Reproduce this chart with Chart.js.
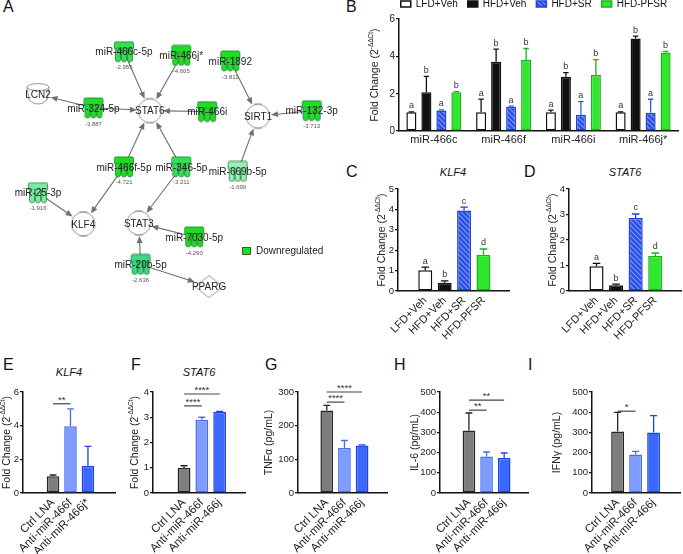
<!DOCTYPE html>
<html>
<head>
<meta charset="utf-8">
<script src="https://cdn.jsdelivr.net/npm/chart.js@4.4.1/dist/chart.umd.min.js"></script>
<style>
html, body { margin: 0; padding: 0; background: #fff; }
#page { position: relative; width: 683px; height: 554px; overflow: hidden; font-family: "Liberation Sans", Arial, sans-serif; }
#page canvas { position: absolute; }
.lab { position: absolute; font-size: 16px; line-height: 16px; color: #111; }
.ttl { position: absolute; font-size: 11px; line-height: 11px; font-style: italic; color: #111; transform: translateX(-50%); white-space: nowrap; }
</style>
</head>
<body>
<div id="page">
  <div class="lab" style="left:3px;top:-1px">A</div>
  <div class="lab" style="left:346px;top:-1px">B</div>
  <div class="lab" style="left:346px;top:164px">C</div>
  <div class="lab" style="left:524px;top:164px">D</div>
  <div class="lab" style="left:3px;top:357px">E</div>
  <div class="lab" style="left:131px;top:357px">F</div>
  <div class="lab" style="left:265px;top:357px">G</div>
  <div class="lab" style="left:394px;top:357px">H</div>
  <div class="lab" style="left:528px;top:357px">I</div>
  <div class="ttl" style="left:453px;top:167px">KLF4</div>
  <div class="ttl" style="left:625px;top:167px">STAT6</div>
  <div class="ttl" style="left:69px;top:367px">KLF4</div>
  <div class="ttl" style="left:199px;top:367px">STAT6</div>
</div>
<script>
// Panel A - network (positions of the nodes in the layout)
const mirNames = ['miR-466c-5p', 'miR-466j*', 'miR-1892', 'miR-324-5p', 'miR-466i', 'miR-132-3p',
                  'miR-466f-5p', 'miR-346-5p', 'miR-669b-5p', 'miR-25-3p', 'miR-7030-5p', 'miR-20b-5p'];
const mirFold = [-2.955, -4.605, -3.811, -3.887, null, -3.713, -4.721, -3.211, -1.699, -1.916, -4.290, -2.636];
const mirX = [120, 182, 235, 87, 210, 323, 120, 182, 243, 27, 196, 138];
const mirY = [42, 46, 52, 103, 107, 106, 167, 167, 172, 195, 243, 273];
const mirColor = ['#2fe04f', '#1fdc1f', '#22dc2a', '#22dc2a', '#1fdc1f', '#22dc2a',
                  '#1fdc1f', '#33de5a', '#9aecb8', '#80e6a2', '#1fdc1f', '#3fd882'];
const geneNames = ['LCN2', 'STAT6', 'SIRT1', 'KLF4', 'STAT3', 'PPARG'];
const geneX = [27, 148, 265, 76, 136, 212];
const geneY = [88, 106, 112, 229, 228, 297];
const geneType = ['cyl', 'tr', 'tr', 'tr', 'tr', 'nr'];
// [miRNA index, gene index]
const edges = [[0, 1], [1, 1], [3, 1], [3, 0], [4, 1], [6, 1], [6, 3], [7, 1], [7, 4],
               [2, 2], [5, 2], [8, 2], [9, 3], [10, 4], [11, 4], [11, 5]];

// Panel B
const bCats = ['miR-466c', 'miR-466f', 'miR-466i', 'miR-466j*'];
const bLFD = [1.0, 1.0, 1.0, 1.0];
const bLFDsem = [0.02, 0.71, 0.12, 0.02];
const bHFD = [2.08, 3.71, 2.91, 4.96];
const bHFDsem = [0.85, 0.68, 0.22, 0.12];
const bSR = [1.1, 1.3, 0.87, 0.98];
const bSRsem = [0.03, 0.03, 0.7, 0.72];
const bPF = [2.08, 3.8, 3.0, 4.21];
const bPFsem = [0.03, 0.62, 0.82, 0.06];

// Panels C, D
const dietGroups = ['LFD+Veh', 'HFD+Veh', 'HFD+SR', 'HFD-PFSR'];
const dietLetters = ['a', 'b', 'c', 'd'];
const cKlf4 = [1.02, 0.41, 3.95, 1.78];
const cKlf4sem = [0.15, 0.09, 0.16, 0.28];
const dStat6 = [0.97, 0.23, 2.86, 1.37];
const dStat6sem = [0.11, 0.04, 0.16, 0.12];

// Panels E - I
const lnaGroupsE = ['Ctrl LNA', 'Anti-miR-466f', 'Anti-miR-466j*'];
const lnaGroups = ['Ctrl LNA', 'Anti-miR-466f', 'Anti-miR-466j'];
const eKlf4 = [0.99, 3.96, 1.62];
const eKlf4sem = [0.08, 1.04, 1.15];
const fStat6 = [0.99, 2.9, 3.21];
const fStat6sem = [0.09, 0.1, 0.02];
const gTnf = [245, 134, 141];
const gTnfsem = [15, 22, 2];
const hIl6 = [310, 181, 173];
const hIl6sem = [86, 22, 25];
const iIfn = [305, 190, 300];
const iIfnsem = [94, 16, 83];

const FONT = '"Liberation Sans", Arial, Helvetica, sans-serif';
Chart.defaults.font.family = FONT;
Chart.defaults.color = '#222';
Chart.defaults.animation = false;
Chart.defaults.events = [];
Chart.defaults.maintainAspectRatio = false;
Chart.defaults.plugins.legend.display = false;
Chart.defaults.plugins.tooltip.enabled = false;

const page = document.getElementById('page');
function mkCanvas(left, top, w, h) {
    const c = document.createElement('canvas');
    c.width = w;
    c.height = h;
    c.style.left = left + 'px';
    c.style.top = top + 'px';
    c.style.width = w + 'px';
    c.style.height = h + 'px';
    page.appendChild(c);
    return c;
}

// move / resize a chart so that its plot area sits at (ax, ay) with size pw x ph
function fitPanel(chart, ax, ay, pw, ph) {
    for (let k = 0; k < 3; k++) {
        const a = chart.chartArea;
        const w = Math.round(a.left + pw + (chart.width - a.right));
        const h = Math.round(a.top + ph + (chart.height - a.bottom));
        if (w === chart.width && h === chart.height) break;
        chart.resize(w, h);
    }
    const a = chart.chartArea;
    chart.canvas.style.left = Math.round(ax - a.left) + 'px';
    chart.canvas.style.top = Math.round(ay - a.top) + 'px';
}

function hatch(bg, fg) {
    const c = document.createElement('canvas');
    c.width = 5; c.height = 5;
    const g = c.getContext('2d');
    g.fillStyle = bg;
    g.fillRect(0, 0, 5, 5);
    g.strokeStyle = fg;
    g.lineWidth = 1.1;
    g.beginPath();
    g.moveTo(-1, -1); g.lineTo(6, 6);
    g.moveTo(-1, 4); g.lineTo(1, 6);
    g.moveTo(4, -1); g.lineTo(6, 1);
    g.stroke();
    return g.createPattern(c, 'repeat');
}
const srFill = hatch('#2b4fe6', '#7d99ff');

// error bars + letters above them + significance lines
const errorBars = {
    id: 'errorBars',
    afterDatasetsDraw(chart) {
        const ctx = chart.ctx;
        const xs = chart.scales.x, ys = chart.scales.y;
        chart.data.datasets.forEach((ds, di) => {
            const meta = chart.getDatasetMeta(di);
            meta.data.forEach((bar, i) => {
                const raw = ds.data[i];
                const v = typeof raw === 'object' ? raw.y : raw;
                const top = ys.getPixelForValue(v + (ds.sem ? ds.sem[i] : 0));
                const col = Array.isArray(ds.errColor) ? ds.errColor[i] : ds.errColor;
                const half = bar.width * 0.27;
                ctx.save();
                ctx.strokeStyle = col;
                ctx.lineWidth = 1.3;
                if (ds.sem && ds.sem[i] > 0) {
                    ctx.beginPath();
                    ctx.moveTo(bar.x, bar.y);
                    ctx.lineTo(bar.x, top);
                    ctx.moveTo(bar.x - half, top);
                    ctx.lineTo(bar.x + half, top);
                    ctx.stroke();
                }
                if (ds.letters) {
                    ctx.fillStyle = '#333';
                    ctx.font = '9px ' + FONT;
                    ctx.textAlign = 'center';
                    ctx.textBaseline = 'bottom';
                    const t = Array.isArray(ds.letters) ? ds.letters[i] : ds.letters;
                    ctx.fillText(t, bar.x, top - 1.5);
                }
                ctx.restore();
            });
            if (ds.sig) {
                ds.sig.forEach(s => {
                    const x1 = xs.getPixelForValue(s[0]), x2 = xs.getPixelForValue(s[1]);
                    const y = ys.getPixelForValue(s[2]);
                    ctx.save();
                    ctx.strokeStyle = '#444';
                    ctx.lineWidth = 1.2;
                    ctx.beginPath();
                    ctx.moveTo(x1, y);
                    ctx.lineTo(x2, y);
                    ctx.stroke();
                    ctx.fillStyle = '#333';
                    ctx.font = '9.5px ' + FONT;
                    ctx.textAlign = 'center';
                    ctx.textBaseline = 'bottom';
                    ctx.fillText(s[3], (x1 + x2) / 2, y + 1);
                    ctx.restore();
                });
            }
        });
    }
};

// rotated y axis title with an optional superscript
const yTitle = {
    id: 'ytitle',
    afterDraw(chart, args, o) {
        if (!o || !o.text) return;
        const ctx = chart.ctx, a = chart.chartArea;
        const size = o.size || 10.5;
        const f1 = size + 'px ' + FONT, f2 = (size * 0.62) + 'px ' + FONT;
        ctx.save();
        ctx.translate(a.left - o.offset, (a.top + a.bottom) / 2);
        ctx.rotate(-Math.PI / 2);
        ctx.fillStyle = '#222';
        ctx.textBaseline = 'middle';
        ctx.textAlign = 'left';
        ctx.font = f1;
        const w1 = ctx.measureText(o.text).width;
        const w3 = o.tail ? ctx.measureText(o.tail).width : 0;
        ctx.font = f2;
        const w2 = o.sup ? ctx.measureText(o.sup).width : 0;
        let x = -(w1 + w2 + w3) / 2;
        ctx.font = f1;
        ctx.fillText(o.text, x, 0);
        x += w1;
        if (o.sup) {
            ctx.font = f2;
            ctx.fillText(o.sup, x, -size * 0.38);
            x += w2;
            ctx.font = f1;
            ctx.fillText(o.tail, x, 0);
        }
        ctx.restore();
    }
};

function yAxis(max, step, width, size) {
    return {
        min: 0,
        max: max,
        ticks: { stepSize: step, font: { size: size }, padding: 1, color: '#222' },
        grid: { display: true, drawOnChartArea: false, drawTicks: true, tickLength: 3, color: '#111', lineWidth: 1.2 },
        border: { display: true, color: '#111', width: 1.5 },
        afterFit: function(s) { s.width = width; }
    };
}

// single-series bar panel on a linear index axis
function barPanel(p) {
    const chart = new Chart(mkCanvas(0, 0, 160, 180), {
        type: 'bar',
        data: {
            datasets: [{
                data: p.values.map((v, i) => ({ x: i, y: v })),
                sem: p.sem,
                letters: p.letters,
                sig: p.sig,
                backgroundColor: p.fill,
                borderColor: p.border,
                errColor: p.border,
                borderWidth: 1.5,
                borderSkipped: false,
                barPercentage: 0.72,
                categoryPercentage: 1
            }]
        },
        options: {
            responsive: false,
            layout: { padding: { top: p.padTop, right: 3, left: 0, bottom: 0 } },
            scales: {
                x: {
                    type: 'linear',
                    min: p.xMin,
                    max: p.xMax,
                    ticks: {
                        stepSize: 1, autoSkip: false, includeBounds: false,
                        minRotation: 45, maxRotation: 45, padding: 3,
                        font: { size: p.xFont }, color: '#222',
                        callback: function(v) { return p.labels[v] !== undefined ? p.labels[v] : ''; }
                    },
                    grid: { display: true, drawOnChartArea: false, drawTicks: false },
                    border: { display: true, color: '#111', width: 1.5 },
                    afterFit: function(s) { s.height = p.xHeight; }
                },
                y: yAxis(p.yMax, p.yStep, 40, 9.5)
            },
            plugins: { ytitle: p.title }
        },
        plugins: [errorBars, yTitle]
    });
    fitPanel(chart, p.at[0], p.at[1], p.at[2], p.at[3]);
    return chart;
}

// ---------- Panel A ----------
function mirGlyph(color) {
    const c = document.createElement('canvas');
    c.width = 22; c.height = 22;
    const g = c.getContext('2d');
    g.fillStyle = color;
    g.strokeStyle = 'rgba(20,120,40,0.9)';
    g.lineWidth = 0.8;
    g.beginPath();
    g.moveTo(1.5, 8);
    g.lineTo(1.5, 2.5);
    g.quadraticCurveTo(1.5, 1, 3, 1);
    g.lineTo(19, 1);
    g.quadraticCurveTo(20.5, 1, 20.5, 2.5);
    g.lineTo(20.5, 8);
    g.closePath();
    g.fill();
    g.stroke();
    for (let k = 0; k < 3; k++) {
        const x0 = 2.5 + k * 6;
        g.beginPath();
        g.moveTo(x0, 8);
        g.lineTo(x0, 19);
        g.quadraticCurveTo(x0, 21, x0 + 2.5, 21);
        g.quadraticCurveTo(x0 + 5, 21, x0 + 5, 19);
        g.lineTo(x0 + 5, 8);
        g.fill();
        g.stroke();
    }
    return c;
}

function geneGlyph(type) {
    const c = document.createElement('canvas');
    const g = c.getContext('2d');
    if (type === 'tr') {
        c.width = 32; c.height = 30;
        const cx = 16, cy = 15, h = 12;
        g.strokeStyle = '#8a8a8a';
        g.fillStyle = '#fff';
        g.lineWidth = 0.9;
        g.beginPath();
        g.moveTo(cx + 4, cy - h);
        g.bezierCurveTo(cx - 17, cy - h - 2, cx - 17, cy + h + 2, cx + 4, cy + h);
        g.moveTo(cx - 4, cy - h);
        g.bezierCurveTo(cx + 17, cy - h - 2, cx + 17, cy + h + 2, cx - 4, cy + h);
        g.fill();
        g.stroke();
    } else if (type === 'cyl') {
        c.width = 26; c.height = 26;
        g.strokeStyle = '#8a8a8a';
        g.fillStyle = '#fff';
        g.lineWidth = 0.9;
        g.beginPath();
        g.moveTo(2, 6);
        g.lineTo(4, 19);
        g.quadraticCurveTo(13, 27, 22, 19);
        g.lineTo(24, 6);
        g.fill();
        g.stroke();
        g.beginPath();
        g.ellipse(13, 6, 11, 3.5, 0, 0, Math.PI * 2);
        g.fill();
        g.stroke();
    } else {
        c.width = 34; c.height = 26;
        g.strokeStyle = '#8a8a8a';
        g.fillStyle = '#fff';
        g.lineWidth = 0.9;
        g.beginPath();
        g.moveTo(17, 2);
        g.lineTo(31, 13);
        g.lineTo(17, 24);
        g.lineTo(3, 13);
        g.closePath();
        g.fill();
        g.stroke();
    }
    return c;
}

const network = {
    id: 'network',
    beforeDatasetsDraw(chart) {
        const ctx = chart.ctx, xs = chart.scales.x, ys = chart.scales.y;
        ctx.save();
        ctx.strokeStyle = '#707070';
        ctx.fillStyle = '#707070';
        ctx.lineWidth = 1.1;
        edges.forEach(e => {
            const x1 = xs.getPixelForValue(mirX[e[0]]), y1 = ys.getPixelForValue(mirY[e[0]]);
            const x2 = xs.getPixelForValue(geneX[e[1]]), y2 = ys.getPixelForValue(geneY[e[1]]);
            const L = Math.hypot(x2 - x1, y2 - y1), ux = (x2 - x1) / L, uy = (y2 - y1) / L;
            const gap = geneType[e[1]] === 'nr' ? 15 : 13;
            const sx = x1 + ux * 8, sy = y1 + uy * 8, ex = x2 - ux * gap, ey = y2 - uy * gap;
            ctx.beginPath();
            ctx.moveTo(sx, sy);
            ctx.lineTo(ex - ux * 4, ey - uy * 4);
            ctx.stroke();
            ctx.beginPath();
            ctx.moveTo(ex, ey);
            ctx.lineTo(ex - ux * 7 - uy * 3, ey - uy * 7 + ux * 3);
            ctx.lineTo(ex - ux * 7 + uy * 3, ey - uy * 7 - ux * 3);
            ctx.closePath();
            ctx.fill();
        });
        ctx.restore();
    },
    afterDatasetsDraw(chart) {
        const ctx = chart.ctx, xs = chart.scales.x, ys = chart.scales.y;
        ctx.save();
        ctx.textAlign = 'center';
        ctx.textBaseline = 'middle';
        mirNames.forEach((n, i) => {
            const x = xs.getPixelForValue(mirX[i]), y = ys.getPixelForValue(mirY[i]);
            ctx.fillStyle = '#222';
            ctx.font = '10px ' + FONT;
            ctx.fillText(n, x, y + 1);
            if (mirFold[i] !== null) {
                ctx.fillStyle = '#555';
                ctx.font = '6px ' + FONT;
                ctx.fillText(mirFold[i].toFixed(3), x, y + 16);
            }
        });
        geneNames.forEach((n, i) => {
            ctx.fillStyle = '#222';
            ctx.font = '10px ' + FONT;
            ctx.fillText(n, xs.getPixelForValue(geneX[i]), ys.getPixelForValue(geneY[i]) + 1);
        });
        // legend
        ctx.fillStyle = '#1fdc1f';
        ctx.strokeStyle = '#333';
        ctx.lineWidth = 0.8;
        ctx.fillRect(242.5, 247.5, 8, 7);
        ctx.strokeRect(242.5, 247.5, 8, 7);
        ctx.fillStyle = '#222';
        ctx.textAlign = 'left';
        ctx.font = '10px ' + FONT;
        ctx.fillText('Downregulated', 256, 251.5);
        ctx.restore();
    }
};

new Chart(mkCanvas(0, 0, 345, 330), {
    type: 'scatter',
    data: {
        datasets: [
            { data: mirX.map((x, i) => ({ x: x, y: mirY[i] })), pointStyle: mirColor.map(mirGlyph), pointRadius: 10 },
            { data: geneX.map((x, i) => ({ x: x, y: geneY[i] })), pointStyle: geneType.map(geneGlyph), pointRadius: 12 }
        ]
    },
    options: {
        responsive: false,
        layout: { padding: 0 },
        scales: {
            x: { type: 'linear', min: 0, max: 345, display: false },
            y: { type: 'linear', min: 0, max: 330, reverse: true, display: false }
        }
    },
    plugins: [network]
});

// ---------- Panel B ----------
const chartB = new Chart(mkCanvas(340, -11, 343, 161), {
    type: 'bar',
    data: {
        labels: bCats,
        datasets: [
            { label: 'LFD+Veh', data: bLFD, sem: bLFDsem, letters: 'a', backgroundColor: '#fff', borderColor: '#111', errColor: '#111' },
            { label: 'HFD+Veh', data: bHFD, sem: bHFDsem, letters: 'b', backgroundColor: '#111', borderColor: '#111', errColor: '#111' },
            { label: 'HFD+SR', data: bSR, sem: bSRsem, letters: 'a', backgroundColor: srFill, borderColor: '#2140d8', errColor: '#3358ec' },
            { label: 'HFD-PFSR', data: bPF, sem: bPFsem, letters: 'b', backgroundColor: '#2ee82e', borderColor: '#1fae1f', errColor: '#1fae1f' }
        ]
    },
    options: {
        responsive: false,
        layout: { padding: { left: 50, right: 5, top: 0, bottom: 0 } },
        datasets: { bar: { borderWidth: 1.5, borderSkipped: false, barPercentage: 0.67, categoryPercentage: 0.86 } },
        scales: {
            x: {
                type: 'category',
                ticks: { font: { size: 11 }, padding: 2, color: '#222', maxRotation: 0, autoSkip: false },
                grid: { display: true, drawOnChartArea: false, drawTicks: false },
                border: { display: true, color: '#111', width: 1.5 },
                afterFit: function(s) { s.height = 19; }
            },
            y: yAxis(6, 2, 9, 10.5)
        },
        plugins: {
            legend: {
                display: true,
                position: 'top',
                labels: { boxWidth: 10, boxHeight: 6, padding: 10, font: { size: 10 }, color: '#111' }
            },
            ytitle: { text: 'Fold Change (2', sup: '-ΔΔCt', tail: ')', offset: 24, size: 10.5 }
        }
    },
    plugins: [errorBars, yTitle]
});
fitPanel(chartB, 399, 19, 279, 112);

// ---------- Panels C, D ----------
const dietFill = ['#fff', '#111', srFill, '#2ee82e'];
const dietBorder = ['#111', '#111', '#2140d8', '#1fae1f'];
const foldTitle = { text: 'Fold Change (2', sup: '-ΔΔCt', tail: ')', offset: 16, size: 10.5 };

barPanel({
    labels: dietGroups, values: cKlf4, sem: cKlf4sem, letters: dietLetters,
    fill: dietFill, border: dietBorder,
    xMin: -0.69, xMax: 3.6, yMax: 5, yStep: 1, xHeight: 55, xFont: 11, padTop: 10,
    at: [398, 189, 111, 102], title: foldTitle
});
barPanel({
    labels: dietGroups, values: dStat6, sem: dStat6sem, letters: dietLetters,
    fill: dietFill, border: dietBorder,
    xMin: -0.69, xMax: 3.6, yMax: 4, yStep: 1, xHeight: 55, xFont: 11, padTop: 10,
    at: [569, 189, 112, 102], title: foldTitle
});

// ---------- Panels E - I ----------
const lnaFill = ['#7d7d7d', '#7f9cff', '#3c68ff'];
const lnaBorder = ['#262626', '#4a6cf0', '#1f45e0'];

barPanel({
    labels: lnaGroupsE, values: eKlf4, sem: eKlf4sem, sig: [[0, 1, 5.3, '**']],
    fill: lnaFill, border: lnaBorder,
    xMin: -0.84, xMax: 2.67, yMax: 6, yStep: 2, xHeight: 61, xFont: 11.5, padTop: 12,
    at: [23, 392, 92, 101], title: foldTitle
});
barPanel({
    labels: lnaGroups, values: fStat6, sem: fStat6sem, sig: [[0, 1, 3.45, '****'], [0, 2, 3.92, '****']],
    fill: lnaFill, border: lnaBorder,
    xMin: -0.88, xMax: 2.56, yMax: 4, yStep: 1, xHeight: 61, xFont: 11.5, padTop: 12,
    at: [153, 392, 92, 101], title: { text: 'Fold Change (2', sup: '-ΔΔCt', tail: ')', offset: 18, size: 10.5 }
});
barPanel({
    labels: lnaGroups, values: gTnf, sem: gTnfsem, sig: [[0, 1, 270, '****'], [0, 2, 300, '****']],
    fill: lnaFill, border: lnaBorder,
    xMin: -0.79, xMax: 2.57, yMax: 300, yStep: 100, xHeight: 61, xFont: 11.5, padTop: 12,
    at: [298, 392, 89, 101], title: { text: 'TNFα (pg/mL)', offset: 29, size: 10.5 }
});
barPanel({
    labels: lnaGroups, values: hIl6, sem: hIl6sem, sig: [[0, 1, 410, '**'], [0, 2, 460, '**']],
    fill: lnaFill, border: lnaBorder,
    xMin: -0.81, xMax: 2.52, yMax: 500, yStep: 100, xHeight: 61, xFont: 11.5, padTop: 12,
    at: [440, 392, 88, 101], title: { text: 'IL-6 (pg/mL)', offset: 25, size: 10.5 }
});
barPanel({
    labels: lnaGroups, values: iIfn, sem: iIfnsem, sig: [[0, 1, 405, '*']],
    fill: lnaFill, border: lnaBorder,
    xMin: -0.61, xMax: 2.65, yMax: 500, yStep: 100, xHeight: 61, xFont: 11.5, padTop: 12,
    at: [592, 392, 88, 101], title: { text: 'IFNγ (pg/mL)', offset: 35, size: 10.5 }
});
</script>
</body>
</html>
